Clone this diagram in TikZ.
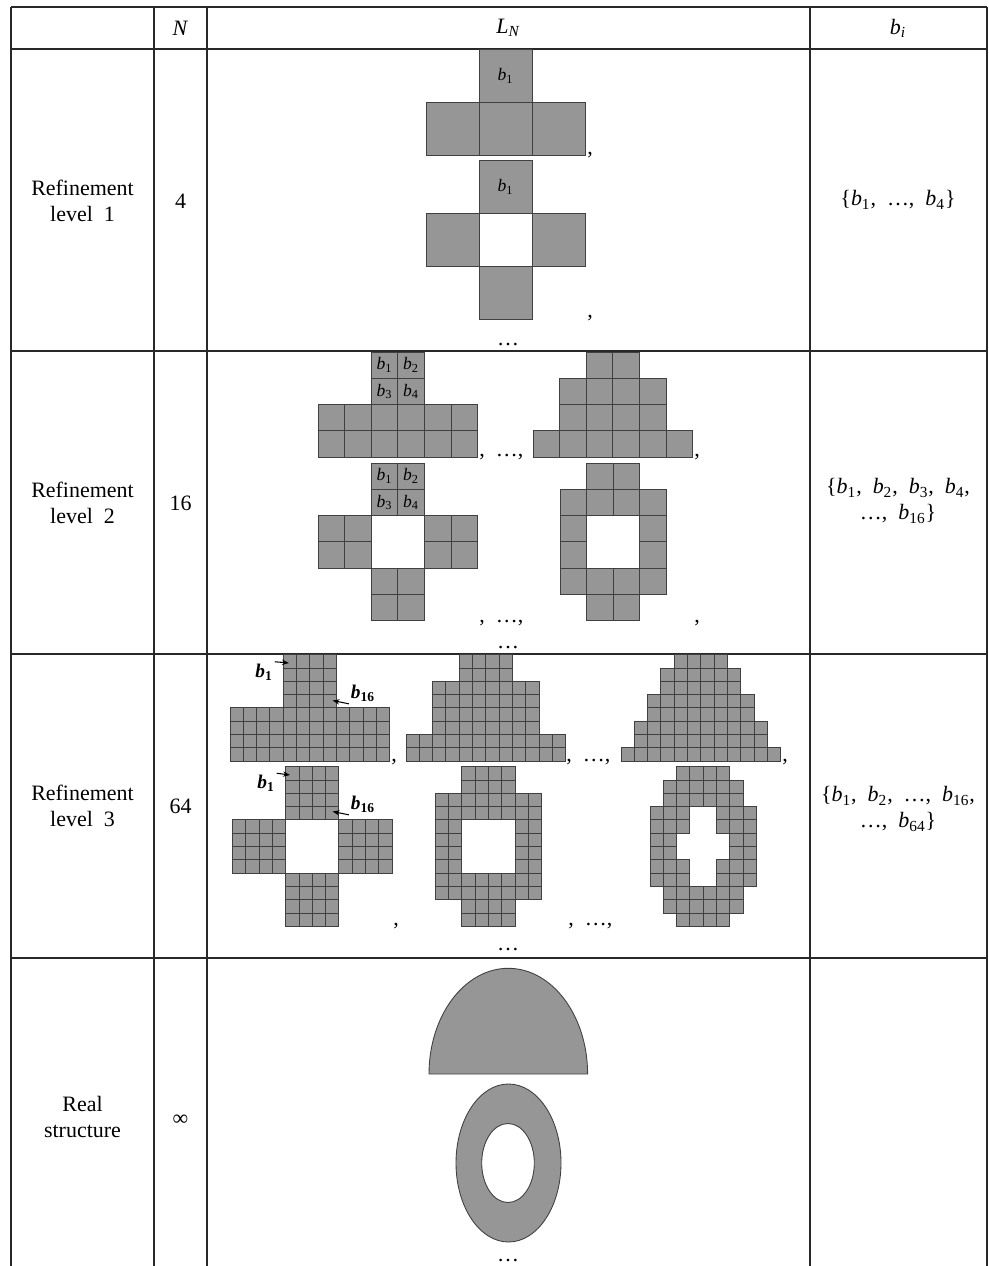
\documentclass[tikz,border=0pt]{standalone}
\usepackage{fontspec}
\setmainfont{Liberation Serif}
\usetikzlibrary{arrows.meta}

\definecolor{cellgray}{RGB}{150,150,150}
\definecolor{rulegray}{RGB}{40,40,40}

\newcommand{\bsub}[1]{{\itshape b}\textsubscript{#1}}
% block of cells: origin, cell width, cell height, list rowfrom/rowto/colfrom/colto
\newcommand{\cellblock}[4]{%
  \begin{scope}[shift={#1}, x=#2*0.02cm, y=-#3*0.02cm]
    \foreach \ra/\rb/\ca/\cb in {#4}
      \foreach \r in {\ra,...,\rb}
        \foreach \c in {\ca,...,\cb}
          \draw[cell] (\c,\r) rectangle ++(1,1);
  \end{scope}}

\begin{document}
\begin{tikzpicture}[
  x=0.02cm, y=-0.02cm,
  cell/.style={draw=black!75, fill=cellgray, line width=0.5pt},
  rule/.style={draw=rulegray, line width=1.1pt},
  txt/.style={font=\fontsize{12.5}{14.8}\selectfont, align=center, inner sep=1pt},
  clab/.style={font=\fontsize{10}{12}\selectfont, inner sep=0pt},
  plab/.style={font=\fontsize{11}{13}\selectfont\bfseries, inner sep=1pt},
  punc/.style={font=\fontsize{12.5}{14.8}\selectfont, anchor=base west, inner sep=0pt},
  dots/.style={font=\fontsize{12.5}{14.8}\selectfont, anchor=base, inner sep=0pt},
  ptr/.style={-{Stealth[length=4pt, width=3pt]}, line width=0.6pt, draw=black},
]
\useasboundingbox (0,0) rectangle (988,1266);

% Table rules
\draw[rule] (11,7) -- (987,7);
\foreach \yy in {49,351,654,958}
  \draw[rule] (11,\yy) -- (987,\yy);
\foreach \xx in {11,154,207,810,987}
  \draw[rule] (\xx,7) -- (\xx,1266);

% Header
\node[txt] (hN) at (180.5,28) {\textit{N}};
\node[txt] (hL) at (508,28) {{\itshape L}\textsubscript{\itshape N}};
\node[txt] (hb) at (898,28) {{\itshape b}\textsubscript{\itshape i}};

% First column
\node[txt] (lev1) at (82.5,201) {Refinement\\level\ \ 1};
\node[txt] (lev2) at (82.5,503) {Refinement\\level\ \ 2};
\node[txt] (lev3) at (82.5,806) {Refinement\\level\ \ 3};
\node[txt] (real) at (82.5,1117) {Real\\structure};

% Second column
\node[txt] (n1) at (180.5,201) {4};
\node[txt] (n2) at (180.5,503) {16};
\node[txt] (n3) at (180.5,806) {64};
\node[txt] (n4) at (180.5,1120) {∞};

% Last column
\node[txt] (set1) at (898,200) {\{\bsub{1},\enspace…,\enspace\bsub{4}\}};
\node[txt] (set2) at (898,501) {\{\bsub{1},\enspace\bsub{2},\enspace\bsub{3},\enspace\bsub{4},\\…,\enspace\bsub{16}\}};
\node[txt] (set3) at (898,809) {\{\bsub{1},\enspace\bsub{2},\enspace…,\enspace\bsub{16},\\…,\enspace\bsub{64}\}};

% Refinement level 1
\cellblock{(426,49.5)}{53}{53}{0/0/1/1, 1/1/0/2}
\cellblock{(426,160.5)}{53}{53}{0/0/1/1, 1/1/0/0, 1/1/2/2, 2/2/1/1}
\node[clab] (t1b1) at (505.5,76) {\bsub{1}};
\node[clab] (r1b1) at (505.5,187) {\bsub{1}};
\node[punc] (c1a) at (587,155) {,};
\node[punc] (c1b) at (587,318) {,};
\node[dots] (d1) at (508,346) {…};

% Refinement level 2
\cellblock{(318,352)}{26.6}{26.3}{0/1/2/3, 2/3/0/5}
\cellblock{(533,352)}{26.6}{26.3}{0/0/2/3, 1/2/1/4, 3/3/0/5}
\cellblock{(318,463)}{26.6}{26.3}{0/1/2/3, 2/3/0/1, 2/3/4/5, 4/5/2/3}
\cellblock{(560,463)}{26.6}{26.3}{0/0/1/2, 1/1/0/3, 2/3/0/0, 2/3/3/3, 4/4/0/3, 5/5/1/2}
\node[clab] (t2b1) at (384.5,365) {\bsub{1}};
\node[clab] (t2b2) at (411,365) {\bsub{2}};
\node[clab] (t2b3) at (384.5,391.5) {\bsub{3}};
\node[clab] (t2b4) at (411,391.5) {\bsub{4}};
\node[clab] (r2b1) at (384.5,476) {\bsub{1}};
\node[clab] (r2b2) at (411,476) {\bsub{2}};
\node[clab] (r2b3) at (384.5,502.5) {\bsub{3}};
\node[clab] (r2b4) at (411,502.5) {\bsub{4}};
\node[punc] (c2a) at (479,457) {,\enspace…,};
\node[punc] (c2b) at (694,457) {,};
\node[punc] (c2c) at (479,622) {,\enspace…,};
\node[punc] (c2d) at (694,622) {,};
\node[dots] (d2) at (508,648) {…};

% Refinement level 3
\cellblock{(230,654.7)}{13.3}{13.3}{0/3/4/7, 4/7/0/11}
\cellblock{(406,654.7)}{13.3}{13.3}{0/1/4/7, 2/5/2/9, 6/7/0/11}
\cellblock{(621,654.7)}{13.3}{13.3}{0/0/4/7, 1/2/3/8, 3/4/2/9, 5/6/1/10, 7/7/0/11}
\cellblock{(232.5,766.7)}{13.3}{13.3}{0/3/4/7, 4/7/0/3, 4/7/8/11, 8/11/4/7}
\cellblock{(435.3,766.7)}{13.3}{13.3}{0/1/2/5, 2/3/0/7, 4/7/0/1, 4/7/6/7, 8/9/0/7, 10/11/2/5}
\cellblock{(650,766.7)}{13.3}{13.3}{0/0/2/5, 1/2/1/6, 3/4/0/2, 3/4/5/7, 5/6/0/1, 5/6/6/7, 7/8/0/2, 7/8/5/7, 9/10/1/6, 11/11/2/5}
\node[plab] (t3b1) at (264,672) {\bsub{1}};
\node[plab] (t3b16) at (363,693.5) {\bsub{16}};
\node[plab] (r3b1) at (266,783.5) {\bsub{1}};
\node[plab] (r3b16) at (363,804.5) {\bsub{16}};
\coordinate (t3p1) at (289,663);
\coordinate (t3p16) at (332.5,700.5);
\coordinate (r3p1) at (290,775);
\coordinate (r3p16) at (332.5,811.5);
\draw[ptr] (t3b1.north east) -- (t3p1);
\draw[ptr] (t3b16.south west) -- (t3p16);
\draw[ptr] (r3b1.north east) -- (r3p1);
\draw[ptr] (r3b16.south west) -- (r3p16);
\node[punc] (c3a) at (391,761) {,};
\node[punc] (c3b) at (566,761) {,\enspace…,};
\node[punc] (c3c) at (782,761) {,};
\node[punc] (c3d) at (393,925) {,};
\node[punc] (c3e) at (568,925) {,\enspace…,};
\node[dots] (d3) at (508,950) {…};

% Real structure
\draw[cell] (429,1074) arc[start angle=180, end angle=360, x radius=79.3, y radius=105.7] -- cycle;
\draw[cell, even odd rule] (508.5,1163) ellipse [x radius=52.5, y radius=79]
  (508,1163) ellipse [x radius=26.3, y radius=39.5];
\node[dots] (d4) at (508,1261) {…};
\end{tikzpicture}
\end{document}
